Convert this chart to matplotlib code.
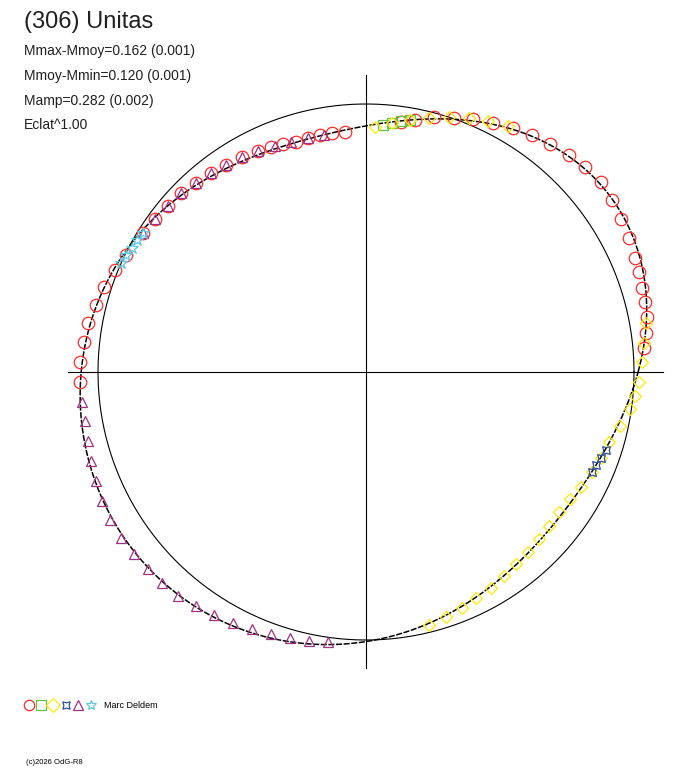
import numpy as np
import matplotlib.pyplot as plt

plt.rcParams['font.family'] = ['Liberation Sans', 'DejaVu Sans']

# centre du diagramme (pixels) et rayon du cercle de référence
cx, cy = 366, 372
r_ref = 268

# courbe ajustée : angle (deg) -> rayon (px)
curve_ang = [0, 15, 25, 40, 57, 74, 90, 106, 131, 153, 169, 180, 190, 210, 228, 246, 270, 282, 303, 325, 344, 352]
curve_r = [274, 288, 293, 303, 287, 265, 242, 241, 254, 266, 281, 286, 285, 296, 293, 281, 271, 262, 247, 238, 253, 267]

red_ang = [5, 8, 11, 14, 17, 20, 23, 27, 31, 35, 39, 43, 47, 51, 55, 59, 63, 67, 71, 75, 79, 82,
           95, 98, 101, 104, 107, 110, 113, 116, 120, 124, 128, 132, 136, 140, 144, 148, 154, 158,
           162, 166, 170, 174, 178, 182]
red_r = [279, 283, 286, 288, 289, 291, 292, 295, 298, 300, 302, 300, 297, 293, 289, 285, 280, 275, 269, 264, 257, 252,
         241, 241, 241, 241, 241, 243, 244, 246, 248, 250, 252, 254, 257, 259, 261, 263, 267, 271,
         275, 278, 282, 284, 286, 286]
yel_ang = [60, 64, 68, 72, 76, 80, 84, 88, 352, 355, 358, 2, 6, 10,
           284, 288, 292, 296, 300, 304, 308, 312, 316, 320, 324, 328, 332, 336, 340, 344, 348]
yel_r = [284, 279, 274, 268, 262, 256, 250, 245, 267, 270, 273, 276, 280, 284,
         261, 258, 255, 252, 249, 246, 244, 242, 240, 239, 238, 240, 244, 247, 250, 253, 260]
grn_ang = [80, 82, 84, 86]
grn_r = [256, 253, 250, 248]
blu_ang = [336, 338, 340, 342]
blu_r = [247, 248, 250, 252]
pur_ang = [100, 104, 108, 112, 116, 120, 124, 128, 132, 136, 140, 144, 148,
           186, 190, 194, 198, 202, 206, 210, 214, 218, 222, 226, 230, 234, 238, 242, 246, 250, 254, 258, 262]
pur_r = [241, 241, 242, 244, 246, 248, 250, 252, 254, 257, 259, 261, 263,
         286, 285, 287, 289, 291, 294, 296, 296, 295, 294, 293, 292, 289, 286, 284, 281, 279, 277, 275, 273]
cya_ang = [148, 150, 152, 154, 156]
cya_r = [263, 264, 265, 267, 268]


def to_xy(ang, r):
    a = np.radians(np.asarray(ang, float))
    r = np.asarray(r, float)
    return cx + r * np.cos(a), cy - r * np.sin(a)


fig = plt.figure(figsize=(6.88, 7.68), dpi=100)
ax = fig.add_axes([0, 0, 1, 1])
ax.set_xlim(0, 688)
ax.set_ylim(768, 0)
ax.axis('off')

# axes et cercle
ax.plot([68, 663], [cy, cy], color='black', lw=0.8)
ax.plot([cx, cx], [75, 668], color='black', lw=0.8)
t = np.linspace(0, 2 * np.pi, 400)
ax.plot(cx + r_ref * np.cos(t), cy + r_ref * np.sin(t), color='black', lw=0.8)

# courbe lissée (série de Fourier ajustée aux points lus)
a = np.radians(curve_ang)
M = np.column_stack([np.ones_like(a)] + [f(k * a) for k in range(1, 5) for f in (np.cos, np.sin)])
coef, *_ = np.linalg.lstsq(M, np.array(curve_r, float), rcond=None)
tt = np.linspace(0, 2 * np.pi, 720)
Mt = np.column_stack([np.ones_like(tt)] + [f(k * tt) for k in range(1, 5) for f in (np.cos, np.sin)])
ax.plot(*to_xy(np.degrees(tt), Mt @ coef), color='black', lw=1.1, ls=(0, (4, 1)))

series = [
    (red_ang, red_r, 'o', '#ff2a2a', 9),
    (grn_ang, grn_r, 's', '#60c040', 7),
    (yel_ang, yel_r, 'D', '#ffe800', 6.5),
    (blu_ang, blu_r, (4, 1, 45), '#3050a0', 8),
    (pur_ang, pur_r, '^', '#a03080', 7.5),
    (cya_ang, cya_r, '*', '#60c8e0', 9),
]
for ang, r, m, c, s in series:
    x, y = to_xy(ang, r)
    ax.plot(x, y, ls='none', marker=m, ms=s, mfc='none', mec=c, mew=0.9)

# légende
lx = [29, 41, 53, 66, 78, 91]
for (ang, r, m, c, s), x in zip(series, lx):
    ax.plot([x], [705], marker=m, ms=7.5, mfc='none', mec=c, mew=0.9)
ax.text(104, 706, 'Marc Deldem', fontsize=6.5, va='center')

ax.text(24, 22, '(306) Unitas', fontsize=17, va='center', color='#202020')
ax.text(24, 51, 'Mmax-Mmoy=0.162 (0.001)', fontsize=10, va='center', color='#202020')
ax.text(24, 76, 'Mmoy-Mmin=0.120 (0.001)', fontsize=10, va='center', color='#202020')
ax.text(24, 101, 'Mamp=0.282 (0.002)', fontsize=10, va='center', color='#202020')
ax.text(24, 125, 'Eclat^1.00', fontsize=10, va='center', color='#202020')
ax.text(26, 762, '(c)2026 OdG-R8', fontsize=5.5, va='center')

fig.savefig('out.png', dpi=100)
